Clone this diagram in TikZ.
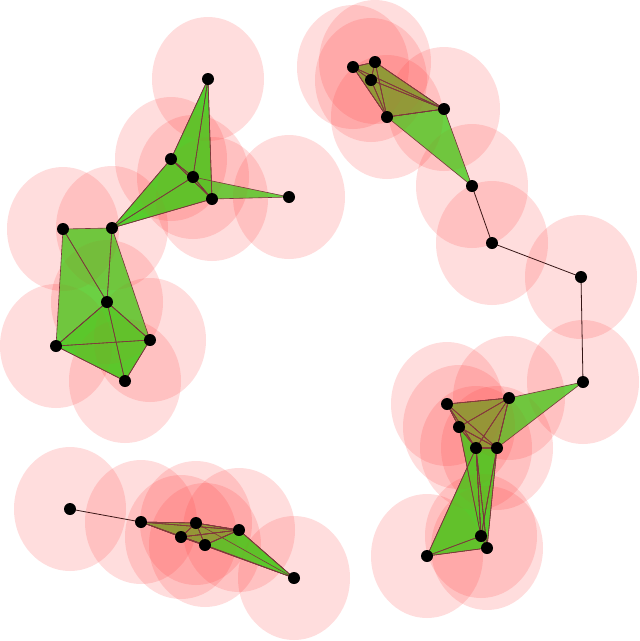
\documentclass[tikz,border=0pt]{standalone}
\definecolor{tgreen}{RGB}{75,212,40}
\definecolor{tolive}{RGB}{130,172,55}
\definecolor{tedge}{RGB}{110,55,60}
\definecolor{tlone}{RGB}{45,20,20}
\definecolor{tpink}{RGB}{255,60,60}
\tikzset{
  tri/.style={fill=tgreen, fill opacity=0.85},
  trio/.style={fill=tolive, fill opacity=0.8},
  triedge/.style={draw=tedge, line width=0.6pt, line join=round},
  loneedge/.style={draw=tlone, line width=0.8pt},
  ball/.style={fill=tpink, fill opacity=0.14},
  veil/.style={fill=tpink, fill opacity=0.04},
  pt/.style={circle, fill=black, inner sep=0pt, minimum size=12pt}
}
\begin{document}
\begin{tikzpicture}[x=1pt,y=-1pt]
\path[use as bounding box] (0,0) rectangle (640,641);
% points
\foreach \n/\x/\y in {a1/208/79, a2/171/159, a3/193/177, a4/212/199, a5/289/197, a6/112/228, a7/63/229, a8/107/302, a9/150/340, a10/56/346, a11/125/381,
  b1/353/67, b2/375/62, b3/371/80, b4/387/117, b5/444/109, b6/472/186, b7/492/243, b8/581/277, b9/583/382,
  c2/509/398, c3/447/404, c4/459/427, c5/476/448, c6/497/448, c7/481/536, c8/487/548, c9/427/556,
  d1/70/509, d2/141/522, d3/196/523, d4/181/537, d5/205/545, d6/239/530, d7/294/578}
  {\coordinate (p-\n) at (\x,\y);}
\def\greenlist{a1/a2/a3, a1/a3/a4, a1/a2/a4, a2/a3/a4, a3/a4/a5, a6/a2/a3, a6/a3/a4, a6/a2/a4,
  a6/a7/a8, a7/a8/a10, a6/a8/a9, a8/a9/a10, a8/a9/a11, a8/a10/a11, a9/a10/a11,
  b4/b5/b6, b9/c2/c6,
  c5/c6/c7, c5/c6/c8, c5/c7/c8, c6/c7/c8, c4/c5/c7, c4/c6/c7, c9/c5/c7, c9/c7/c8, c9/c5/c8,
  d3/d6/d7, d5/d6/d7, d4/d6/d7, d4/d5/d7}
\def\olivelist{b1/b2/b3, b1/b2/b4, b1/b2/b5, b1/b3/b4, b1/b3/b5, b1/b4/b5, b2/b3/b4, b2/b3/b5, b2/b4/b5, b3/b4/b5,
  c2/c3/c4, c2/c3/c5, c2/c3/c6, c2/c4/c5, c2/c4/c6, c2/c5/c6, c3/c4/c5, c3/c4/c6, c3/c5/c6, c4/c5/c6,
  d2/d3/d4, d2/d3/d5, d2/d3/d6, d2/d4/d5, d2/d4/d6, d2/d5/d6, d3/d4/d5, d3/d4/d6, d3/d5/d6, d4/d5/d6}
\def\allpts{a1,a2,a3,a4,a5,a6,a7,a8,a9,a10,a11,b1,b2,b3,b4,b5,b6,b7,b8,b9,c2,c3,c4,c5,c6,c7,c8,c9,d1,d2,d3,d4,d5,d6,d7}
% balls
\foreach \n in \allpts
  {\fill[ball] (p-\n) ellipse [x radius=56pt, y radius=62pt];}
% triangles
\foreach \p/\q/\r in \greenlist
  {\fill[tri] (p-\p) -- (p-\q) -- (p-\r) -- cycle;}
\foreach \p/\q/\r in \olivelist
  {\fill[trio] (p-\p) -- (p-\q) -- (p-\r) -- cycle;}
\foreach \p/\q/\r in \greenlist
  {\draw[triedge] (p-\p) -- (p-\q) -- (p-\r) -- cycle;}
\foreach \p/\q/\r in \olivelist
  {\draw[triedge] (p-\p) -- (p-\q) -- (p-\r) -- cycle;}
% lone edges
\foreach \p/\q in {b6/b7, b7/b8, b8/b9, d1/d2}
  {\draw[loneedge] (p-\p) -- (p-\q);}
% faint veil of the balls over the simplices
\foreach \n in \allpts
  {\fill[veil] (p-\n) ellipse [x radius=56pt, y radius=62pt];}
% vertices
\foreach \n in \allpts
  {\node[pt] (\n) at (p-\n) {};}
\end{tikzpicture}
\end{document}
